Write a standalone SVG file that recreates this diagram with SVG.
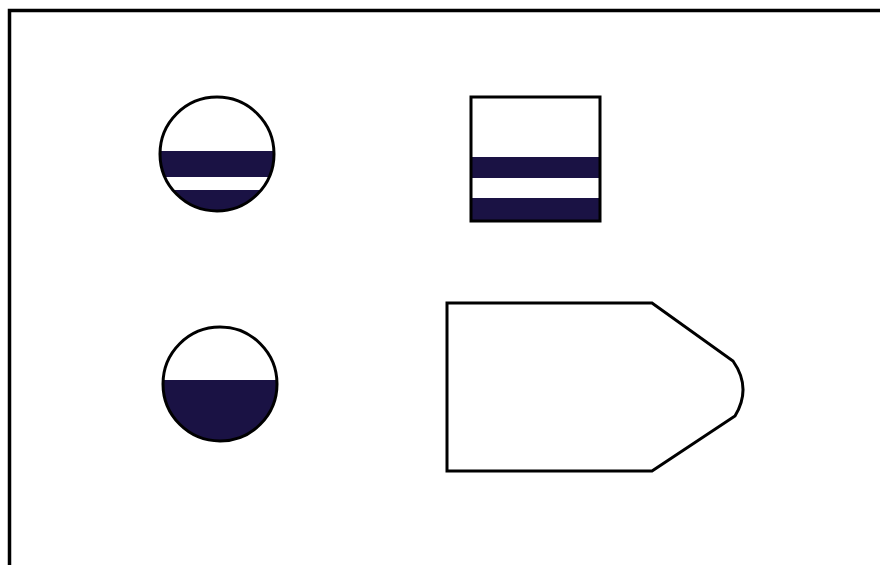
<svg xmlns="http://www.w3.org/2000/svg" width="880" height="565" viewBox="0 0 880 565">
<style>
.o{fill:none;stroke:#000;stroke-width:3}
.d{fill:#1a1244}
</style>
<defs>
<clipPath id="c1"><circle cx="217" cy="154" r="57"/></clipPath>
<clipPath id="c2"><circle cx="220" cy="384" r="57"/></clipPath>
</defs>
<rect width="880" height="565" fill="#fff"/>
<g id="frame"><path d="M9.5 565 V10.5 H880" fill="none" stroke="#000" stroke-width="3.5"/></g>
<g id="circle1">
<circle cx="217" cy="154" r="57" fill="#fff"/>
<g clip-path="url(#c1)">
<rect class="d" x="150" y="151" width="140" height="26"/>
<rect class="d" x="150" y="190" width="140" height="30"/>
</g>
<circle class="o" cx="217" cy="154" r="57"/>
</g>
<g id="circle2">
<circle cx="220" cy="384" r="57" fill="#fff"/>
<g clip-path="url(#c2)">
<rect class="d" x="150" y="380" width="140" height="70"/>
</g>
<circle class="o" cx="220" cy="384" r="57"/>
</g>
<g id="square">
<rect x="471" y="97" width="129" height="124" fill="#fff"/>
<rect class="d" x="471" y="157" width="129" height="21"/>
<rect class="d" x="471" y="198" width="129" height="23"/>
<rect class="o" x="471" y="97" width="129" height="124"/>
</g>
<g id="pentagon">
<path class="o" d="M447 303 H652 L733 361 Q752 388 735 416 L652 471 H447 Z" fill="#fff"/>
</g>
</svg>
